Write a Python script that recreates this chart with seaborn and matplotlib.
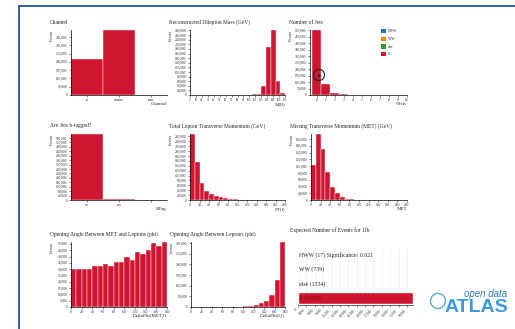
import numpy as np
import pandas as pd
import matplotlib
matplotlib.use('Agg')
import matplotlib.pyplot as plt
from matplotlib.patches import Patch, Ellipse
from matplotlib.lines import Line2D
from matplotlib.ticker import FuncFormatter
import seaborn as sns

W, H = 515, 329
RED = '#cf1530'
SAMPLE_COLORS = ['#1f77b4', '#ff7f0e', '#2ca02c', RED]

# --- data ---
sample_names = ['HWW', 'WW', 'else', 'Z']

channel_labels = ['ee', 'mumu', 'emu']
channel_counts = [215000, 392000, 0]

mll_edges = list(range(0, 161, 8))
mll_counts = [0, 0, 0, 0, 0, 0, 0, 0, 0, 0, 0, 0,
              1000, 3000, 6000, 38000, 207000, 282000, 60000, 8000]

njets = list(range(0, 10))
njets_counts = [500000, 85000, 18000, 4000, 800, 150, 40, 10, 0, 0]

btag_labels = ['no', 'yes', '']
btag_counts = [596000, 11000, 0]

ptl_edges = list(range(0, 201, 10))
ptl_counts = [270000, 157000, 68000, 38000, 24000, 16000, 11000, 7000, 4500, 3000,
              2000, 1500, 1000, 800, 600, 400, 300, 200, 150, 100]

met_edges = list(range(0, 201, 10))
met_counts = [103000, 195000, 150000, 84000, 39000, 20000, 8000, 4000, 2000, 1000,
              500, 300, 200, 100, 50, 0, 0, 0, 0, 0]

dphi_met_edges = list(range(0, 181, 10))
dphi_met_counts = [30000, 30000, 30000, 30000, 32100, 32100, 33900, 32100, 35500,
                   35500, 39700, 37600, 43200, 42000, 45500, 50800, 48500, 51500]

dphi_ll_edges = list(range(0, 181, 10))
dphi_ll_counts = [200, 250, 300, 400, 500, 700, 900, 1200, 1600, 2200,
                  3000, 5000, 9000, 17000, 29000, 58000, 126000, 305000]

expected_labels = ['HWW (17) Significance: 0.021', 'WW (739)', 'else (1334)', 'Z (41156)']
expected_counts = [17, 739, 1334, 41156]

sns.set_style('white')
plt.rcParams['font.family'] = ['Liberation Serif', 'DejaVu Serif']

fig = plt.figure(figsize=(W / 100, H / 100), dpi=100)
fig.patch.set_facecolor('white')


def box(x0, y0, x1, y1):
    return [x0 / W, 1 - y1 / H, (x1 - x0) / W, (y1 - y0) / H]


comma = FuncFormatter(lambda v, p: f'{v:,.0f}')


def style(ax, px, title, xlabel, ystep=None, xsize=2.6):
    x0, y0, x1, y1 = px
    for s in ['top', 'right']:
        ax.spines[s].set_visible(False)
    for s in ['left', 'bottom']:
        ax.spines[s].set_linewidth(0.5)
        ax.spines[s].set_color('black')
    ax.tick_params(axis='both', which='both', direction='out', length=1.5, width=0.4,
                   pad=1, labelsize=2.6, left=True, bottom=True)
    ax.tick_params(axis='x', labelsize=xsize)
    ax.set_xlabel('')
    ax.set_ylabel('')
    ax.set_facecolor('white')
    ax.yaxis.set_major_formatter(comma)
    if ystep is not None:
        ax.set_yticks(np.arange(0, ax.get_ylim()[1] + 1, ystep))
    fig.text((x0 - 21) / W, 1 - (y0 - 8) / H, title, fontsize=4, ha='left', va='center')
    fig.text(x1 / W, 1 - (y1 + 9) / H, xlabel, fontsize=3.6, ha='right', va='center')
    fig.text((x0 - 19) / W, 1 - y0 / H, 'Events', fontsize=3, rotation=90,
             ha='center', va='top')


def hist(px, edges, counts, title, xlabel, ystep, xstep, xsize=2.6):
    ax = fig.add_axes(box(*px))
    df = pd.DataFrame({'lo': edges[:-1], 'hi': edges[1:], 'n': counts})
    df['mid'] = (df['lo'] + df['hi']) / 2
    sns.histplot(data=df, x='mid', weights='n', bins=edges, color=RED, alpha=1,
                 edgecolor='white', linewidth=0.3, ax=ax)
    ax.set_xlim(edges[0], edges[-1])
    ax.set_ylim(0, max(counts))
    ax.set_xticks(np.arange(edges[0], edges[-1] + 1, xstep))
    ax.xaxis.set_major_formatter(FuncFormatter(lambda v, p: f'{v:.0f}'))
    style(ax, px, title, xlabel, ystep, xsize)
    return ax


def cat_bars(px, labels, counts, title, xlabel, ystep):
    ax = fig.add_axes(box(*px))
    sns.barplot(x=labels, y=counts, color=RED, saturation=1, width=1,
                edgecolor='white', linewidth=0.3, ax=ax)
    ax.set_xlim(-0.5, len(labels) - 0.5)
    ax.set_ylim(0, max(counts))
    style(ax, px, title, xlabel, ystep)
    return ax


# row 1
cat_bars((71, 30, 167, 95), channel_labels, channel_counts, 'Channel', 'Channel', 50000)
hist((190, 30, 285, 95), mll_edges, mll_counts,
     'Reconstructed Dilepton Mass (GeV)', 'M(ll)', 20000, 10, xsize=2.1)

ax3 = fig.add_axes(box(310, 30, 407, 95))
jets_df = pd.DataFrame({'nj': njets, 'n': njets_counts})
sns.histplot(data=jets_df, x='nj', weights='n', discrete=True, color=RED, alpha=1,
             edgecolor='white', linewidth=0.3, ax=ax3)
ax3.set_xlim(-0.75, 10.05)
ax3.set_ylim(0, max(njets_counts))
ax3.set_xticks(np.arange(0, 11))
style(ax3, (310, 30, 407, 95), 'Number of Jets', 'NJets', 50000)

# small cursor marker on the jets plot
fig.add_artist(Ellipse((319 / W, 1 - 75 / H), 11 / W, 11 / H, fill=False,
                       edgecolor='#222222', linewidth=0.8, transform=fig.transFigure))
fig.text(319.5 / W, 1 - 75 / H, '\u25b6', fontsize=3.5, ha='center', va='center',
         color='#222222', family='DejaVu Sans')

handles = [Patch(facecolor=c, edgecolor='none') for c in SAMPLE_COLORS]
fig.legend(handles, sample_names, loc='upper left', bbox_to_anchor=(381 / W, 1 - 29 / H),
           frameon=False, fontsize=2.6, handlelength=1.4, handleheight=1.4,
           labelspacing=0.95, handletextpad=0.5, borderpad=0, borderaxespad=0)

# row 2
cat_bars((71, 134, 167, 200), btag_labels, btag_counts, 'Are Jets b-tagged?', 'BTag', 40000)
hist((190, 134, 285, 200), ptl_edges, ptl_counts,
     'Total Lepton Transverse Momentum (GeV)', 'PT(l)', 20000, 20)
hist((311, 134, 407, 200), met_edges, met_counts,
     'Missing Transverse Momentum (MET) (GeV)', 'MET', 20000, 20)

# row 3
hist((71, 242, 167, 307), dphi_met_edges, dphi_met_counts,
     'Opening Angle Between MET and Leptons (phi)', 'DeltaPhi(MET,l)', 5000, 20)
hist((191, 242, 285, 307), dphi_ll_edges, dphi_ll_counts,
     'Opening Angle Between Leptons (phi)', 'DeltaPhi(l,l)', 50000, 20)

px9 = (298, 248, 413, 305)
ax9 = fig.add_axes(box(*px9))
faint = ['#eef4fa', '#fff4ea', '#eef8ee', RED]
sns.barplot(x=expected_counts, y=sample_names, hue=sample_names, palette=faint,
            orient='h', saturation=1, width=0.85, legend=False, ax=ax9)
ax9.set_xlim(0, max(expected_counts))
ax9.set_xticks(np.arange(0, max(expected_counts), 3000))
ax9.xaxis.set_major_formatter(comma)
ax9.grid(axis='x', color='#e6e6e6', linewidth=0.4)
ax9.set_axisbelow(True)
for s in ['top', 'right', 'left']:
    ax9.spines[s].set_visible(False)
ax9.spines['bottom'].set_linewidth(0.5)
ax9.tick_params(axis='x', direction='out', length=1.5, width=0.4, pad=0.8,
                labelsize=2.4, labelrotation=45, bottom=True)
for lab in ax9.get_xticklabels():
    lab.set_ha('right')
ax9.set_yticks([])
ax9.set_xlabel('')
ax9.set_ylabel('')
for i, lab in enumerate(expected_labels):
    ax9.text(0.01, i, lab, transform=ax9.get_yaxis_transform(), fontsize=4.2,
             ha='left', va='center', color='#7a0a18' if i == 3 else '#222222')
fig.text((px9[0] - 8) / W, 1 - (px9[1] - 18) / H, 'Expected Number of Events for 1fb',
         fontsize=4, ha='left', va='center')

# open data ATLAS logo as text
fig.add_artist(Ellipse((438 / W, 1 - 301 / H), 15 / W, 15 / H, fill=False,
                       edgecolor='#5aa9dc', linewidth=1.0, transform=fig.transFigure))
fig.text(507 / W, 1 - 294 / H, 'open data', fontsize=7, style='italic', color='#2f78c4',
         ha='right', va='center', family='Liberation Sans')
fig.text(508 / W, 1 - 308 / H, 'ATLAS', fontsize=14, weight='bold', color='#3d9ad8',
         ha='right', va='center', family='Liberation Sans')

# blue frame of the page
fig.add_artist(Line2D([19 / W, 1], [1 - 6 / H, 1 - 6 / H], color='#24519f',
                      linewidth=1.3, transform=fig.transFigure))
fig.add_artist(Line2D([19 / W, 19 / W], [1 - 6 / H, 0], color='#24519f',
                      linewidth=1.3, transform=fig.transFigure))

fig.savefig('out.png', dpi=100)
